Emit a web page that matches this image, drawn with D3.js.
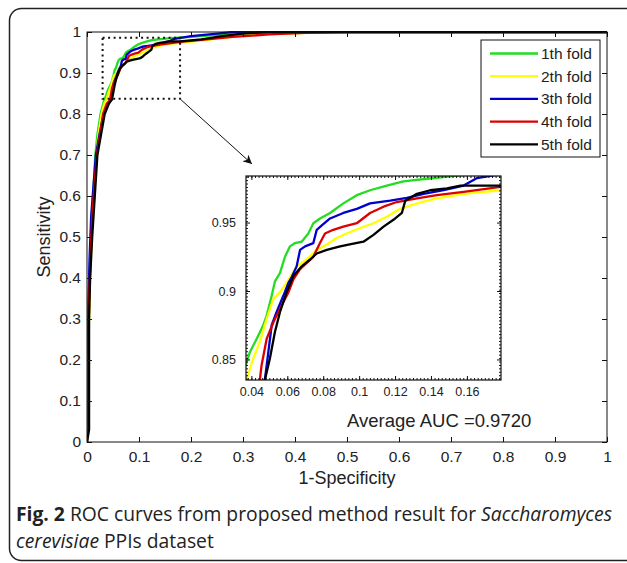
<!DOCTYPE html>
<html lang="en">
  <head>
    <meta charset="utf-8">
    <title>ROC curves | Saccharomyces cerevisiae PPIs</title>
    <script type="text/javascript" src="https://d3js.org/d3.v7.min.js"></script>
    <style>
      body { margin: 0; background: #ffffff; }
      .tick text { font-family: 'Liberation Sans', Arial, sans-serif; fill: #222; }
      .domain { display: none; }
      .roc-line { fill: none; stroke-width: 2.3; stroke-linejoin: round; }
      .caption { font-family: 'Open Sans', 'Noto Sans', sans-serif; font-size: 19.3px; fill: #222; }
    </style>
  </head>
  <body>
    <div id="roc-vis"></div>
    <script type="text/javascript">

      var w = 627;
      var h = 563;

      // data: [1-specificity, sensitivity]
      var foldNames = ['1th fold', '2th fold', '3th fold', '4th fold', '5th fold'];
      var foldColors = ['#22dd22', '#ffff00', '#0000cc', '#dd0000', '#000000'];

      var fold1 = [[0,0],[0.003,0.22],[0.004,0.35],[0.006,0.45],[0.009,0.55],[0.013,0.63],[0.016,0.7],[0.02,0.75],[0.026,0.8],[0.032,0.83],[0.0369,0.846],[0.0392,0.8555],[0.0429,0.865],[0.0466,0.875],[0.0485,0.882],[0.0513,0.8965],[0.0531,0.907],[0.0559,0.913],[0.0587,0.925],[0.0615,0.9326],[0.0643,0.935],[0.068,0.936],[0.0717,0.942],[0.0745,0.9495],[0.0782,0.953],[0.0838,0.957],[0.0912,0.964],[0.0987,0.97],[0.1061,0.9736],[0.1154,0.977],[0.1247,0.98],[0.1377,0.982],[0.16,0.985],[0.2,0.988],[0.25,0.993],[0.3,0.996],[0.4,0.998],[0.5,1],[1,1]];
      var fold2 = [[0,0],[0.002,0.2],[0.004,0.3],[0.006,0.4],[0.009,0.5],[0.014,0.6],[0.018,0.7],[0.022,0.75],[0.028,0.8],[0.033,0.825],[0.0373,0.835],[0.041,0.8507],[0.0447,0.8628],[0.0485,0.8796],[0.0522,0.894],[0.0559,0.899],[0.0596,0.906],[0.0652,0.918],[0.0708,0.923],[0.0764,0.93],[0.082,0.934],[0.0875,0.9387],[0.0931,0.942],[0.1006,0.946],[0.108,0.9495],[0.1154,0.9543],[0.1229,0.96],[0.1322,0.964],[0.1433,0.9676],[0.1582,0.971],[0.1787,0.9736],[0.22,0.979],[0.26,0.985],[0.3,0.992],[0.38,0.996],[0.45,0.999],[0.5,1],[1,1]];
      var fold3 = [[0,0],[0.002,0.25],[0.003,0.35],[0.005,0.45],[0.008,0.55],[0.011,0.6],[0.017,0.7],[0.024,0.75],[0.032,0.8],[0.04,0.825],[0.0475,0.835],[0.0494,0.855],[0.0513,0.875],[0.054,0.8845],[0.0578,0.8965],[0.0606,0.906],[0.0624,0.91],[0.0652,0.918],[0.0671,0.93],[0.0699,0.9326],[0.0745,0.935],[0.0764,0.9447],[0.0792,0.948],[0.0838,0.953],[0.0912,0.957],[0.0987,0.96],[0.1061,0.964],[0.1173,0.966],[0.1266,0.968],[0.1359,0.971],[0.1471,0.9736],[0.1582,0.977],[0.1657,0.9825],[0.2,0.99],[0.25,0.996],[0.28,1],[1,1]];
      var fold4 = [[0,0],[0.003,0.25],[0.004,0.35],[0.007,0.45],[0.01,0.55],[0.014,0.62],[0.019,0.7],[0.025,0.75],[0.031,0.8],[0.038,0.825],[0.0447,0.835],[0.0457,0.846],[0.0485,0.865],[0.0522,0.877],[0.0559,0.887],[0.0606,0.899],[0.0634,0.9085],[0.0671,0.916],[0.0708,0.9206],[0.0745,0.925],[0.0782,0.935],[0.081,0.942],[0.0856,0.9447],[0.0912,0.947],[0.0987,0.9495],[0.1061,0.957],[0.1136,0.9616],[0.121,0.965],[0.1322,0.9676],[0.1433,0.97],[0.1582,0.9724],[0.1787,0.976],[0.22,0.981],[0.28,0.988],[0.35,0.994],[0.42,0.998],[0.5,1],[1,1]];
      var fold5 = [[0,0],[0.004,0.03],[0.004,0.3],[0.006,0.4],[0.01,0.5],[0.015,0.6],[0.02,0.7],[0.027,0.75],[0.034,0.8],[0.042,0.825],[0.0475,0.835],[0.0503,0.8507],[0.0531,0.87],[0.0559,0.8845],[0.0596,0.899],[0.0634,0.911],[0.068,0.918],[0.0727,0.923],[0.0764,0.9274],[0.082,0.93],[0.0894,0.9326],[0.0968,0.9346],[0.1024,0.936],[0.108,0.941],[0.1136,0.947],[0.1191,0.952],[0.1238,0.957],[0.1257,0.966],[0.1322,0.971],[0.1396,0.9736],[0.1489,0.975],[0.1564,0.977],[0.1787,0.977],[0.22,0.982],[0.26,0.99],[0.3,0.996],[0.35,1],[1,1]];
      var folds = [fold1, fold2, fold3, fold4, fold5];

      var mainTicks = [0, 0.1, 0.2, 0.3, 0.4, 0.5, 0.6, 0.7, 0.8, 0.9, 1];
      var insetTicksX = [0.04, 0.06, 0.08, 0.1, 0.12, 0.14, 0.16];
      var insetTicksY = [0.85, 0.9, 0.95];
      var zoomX = [0.037, 0.179]; // zoomed window
      var zoomY = [0.835, 0.984];
      var aucText = 'Average AUC =0.9720';

      var svg = d3.select('#roc-vis')
        .append('svg')
          .attr('width', w)
          .attr('height', h)
          .style('background', '#ffffff');

      svg.append('defs').append('marker')
        .attr('id', 'arrowhead')
        .attr('viewBox', '0 0 10 10')
        .attr('refX', 10).attr('refY', 5)
        .attr('markerWidth', 9).attr('markerHeight', 9)
        .attr('markerUnits', 'userSpaceOnUse')
        .attr('orient', 'auto')
        .append('path')
          .attr('d', 'M0,0 L10,5 L0,10 L3,5 Z')
          .attr('fill', '#111');

      // outer rounded frame
      svg.append('rect')
        .attr('x', 9.5).attr('y', 8.5)
        .attr('width', 640).attr('height', 552)
        .attr('rx', 12)
        .attr('fill', 'none')
        .attr('stroke', '#222')
        .attr('stroke-width', 1.5);

      // main axes ------------------------------------------------------------
      var mLeft = 87, mRight = 607, mTop = 32, mBottom = 442;

      var x = d3.scaleLinear().domain([0, 1]).range([mLeft, mRight]);
      var y = d3.scaleLinear().domain([0, 1]).range([mBottom, mTop]);

      svg.append('defs').append('clipPath').attr('id', 'main-clip')
        .append('rect')
          .attr('x', mLeft).attr('y', mTop - 1)
          .attr('width', mRight - mLeft).attr('height', mBottom - mTop + 1);

      var line = d3.line()
        .x(function(d) { return x(d[0]); })
        .y(function(d) { return y(d[1]); });

      svg.append('g')
        .attr('clip-path', 'url(#main-clip)')
        .selectAll('path')
        .data(folds)
        .enter()
        .append('path')
          .attr('class', 'roc-line')
          .attr('d', line)
          .attr('stroke', function(d, i) { return foldColors[i]; });

      svg.append('rect')
        .attr('x', mLeft).attr('y', mTop)
        .attr('width', mRight - mLeft).attr('height', mBottom - mTop)
        .attr('fill', 'none').attr('stroke', '#111').attr('stroke-width', 1);

      var fmt = function(d) { return d3.format('')(d); };

      var gx = svg.append('g')
        .attr('transform', 'translate(0,' + mBottom + ')')
        .call(d3.axisBottom(x).tickValues(mainTicks).tickFormat(fmt).tickSize(-5).tickPadding(9));
      svg.append('g')
        .attr('transform', 'translate(0,' + mTop + ')')
        .call(d3.axisTop(x).tickValues(mainTicks).tickFormat('').tickSize(-5));
      var gy = svg.append('g')
        .attr('transform', 'translate(' + mLeft + ',0)')
        .call(d3.axisLeft(y).tickValues(mainTicks).tickFormat(fmt).tickSize(-5).tickPadding(6));
      svg.append('g')
        .attr('transform', 'translate(' + mRight + ',0)')
        .call(d3.axisRight(y).tickValues(mainTicks).tickFormat('').tickSize(-5));

      svg.selectAll('.tick line').attr('stroke', '#111');
      gx.selectAll('.tick text').style('font-size', '15.5px');
      gy.selectAll('.tick text').style('font-size', '15.5px');

      svg.append('text')
        .attr('x', (mLeft + mRight) / 2).attr('y', 484)
        .attr('text-anchor', 'middle')
        .style('font-family', "'Liberation Sans', Arial, sans-serif")
        .style('font-size', '18px').style('fill', '#222')
        .text('1-Specificity');

      svg.append('text')
        .attr('transform', 'translate(50,' + (mTop + mBottom) / 2 + ') rotate(-90)')
        .attr('text-anchor', 'middle')
        .style('font-family', "'Liberation Sans', Arial, sans-serif")
        .style('font-size', '18px').style('fill', '#222')
        .text('Sensitivity');

      // dotted zoom box + arrow
      svg.append('rect')
        .attr('x', x(0.03)).attr('y', y(0.986))
        .attr('width', x(0.179) - x(0.03))
        .attr('height', y(0.837) - y(0.986))
        .attr('fill', 'none')
        .attr('stroke', '#111')
        .attr('stroke-width', 2)
        .attr('stroke-dasharray', '2,3.5');

      svg.append('line')
        .attr('x1', x(0.179) + 1).attr('y1', y(0.837) + 1)
        .attr('x2', 252).attr('y2', 164)
        .attr('stroke', '#111').attr('stroke-width', 1)
        .attr('marker-end', 'url(#arrowhead)');

      // legend
      var legend = svg.append('g').attr('transform', 'translate(481,40)');
      legend.append('rect')
        .attr('width', 119).attr('height', 117)
        .attr('fill', '#ffffff').attr('stroke', '#111').attr('stroke-width', 1);
      var items = legend.selectAll('.legend-item')
        .data(foldNames)
        .enter()
        .append('g')
          .attr('class', 'legend-item')
          .attr('transform', function(d, i) { return 'translate(0,' + (13.5 + i * 22.7) + ')'; });
      items.append('line')
        .attr('x1', 9).attr('x2', 57)
        .attr('stroke-width', 2.3)
        .attr('stroke', function(d, i) { return foldColors[i]; });
      items.append('text')
        .attr('x', 60).attr('y', 5.5)
        .style('font-family', "'Liberation Sans', Arial, sans-serif")
        .style('font-size', '15.5px').style('fill', '#222')
        .text(function(d) { return d; });

      // inset ---------------------------------------------------------------
      var iLeft = 246, iRight = 501, iTop = 176, iBottom = 380;
      var ix = d3.scaleLinear().domain(zoomX).range([iLeft, iRight]);
      var iy = d3.scaleLinear().domain(zoomY).range([iBottom, iTop]);

      svg.append('rect')
        .attr('x', iLeft).attr('y', iTop)
        .attr('width', iRight - iLeft).attr('height', iBottom - iTop)
        .attr('fill', '#ffffff');

      svg.append('defs').append('clipPath').attr('id', 'inset-clip')
        .append('rect')
          .attr('x', iLeft).attr('y', iTop)
          .attr('width', iRight - iLeft).attr('height', iBottom - iTop);

      var insetLine = d3.line()
        .x(function(d) { return ix(d[0]); })
        .y(function(d) { return iy(d[1]); });

      svg.append('g')
        .attr('clip-path', 'url(#inset-clip)')
        .selectAll('path')
        .data(folds)
        .enter()
        .append('path')
          .attr('class', 'roc-line')
          .attr('d', insetLine)
          .attr('stroke', function(d, i) { return foldColors[i]; });

      // minor ticks, dotted look along the inset frame
      var minorX = d3.range(0.038, zoomX[1], 0.002);
      var minorY = d3.range(0.836, zoomY[1], 0.0025);
      svg.append('g').attr('transform', 'translate(0,' + iBottom + ')')
        .call(d3.axisBottom(ix).tickValues(minorX).tickFormat('').tickSize(-2));
      svg.append('g').attr('transform', 'translate(0,' + iTop + ')')
        .call(d3.axisTop(ix).tickValues(minorX).tickFormat('').tickSize(-2));
      svg.append('g').attr('transform', 'translate(' + iLeft + ',0)')
        .call(d3.axisLeft(iy).tickValues(minorY).tickFormat('').tickSize(-2));
      svg.append('g').attr('transform', 'translate(' + iRight + ',0)')
        .call(d3.axisRight(iy).tickValues(minorY).tickFormat('').tickSize(-2));

      var igx = svg.append('g')
        .attr('transform', 'translate(0,' + iBottom + ')')
        .call(d3.axisBottom(ix).tickValues(insetTicksX).tickFormat(fmt).tickSize(-4).tickPadding(7));
      svg.append('g')
        .attr('transform', 'translate(0,' + iTop + ')')
        .call(d3.axisTop(ix).tickValues(insetTicksX).tickFormat('').tickSize(-4));
      var igy = svg.append('g')
        .attr('transform', 'translate(' + iLeft + ',0)')
        .call(d3.axisLeft(iy).tickValues(insetTicksY).tickFormat(fmt).tickSize(-4).tickPadding(10));
      svg.append('g')
        .attr('transform', 'translate(' + iRight + ',0)')
        .call(d3.axisRight(iy).tickValues(insetTicksY).tickFormat('').tickSize(-4));

      svg.selectAll('.tick line').attr('stroke', '#111');
      igx.selectAll('.tick text').style('font-size', '12.5px');
      igy.selectAll('.tick text').style('font-size', '12.5px');

      svg.append('rect')
        .attr('x', iLeft).attr('y', iTop)
        .attr('width', iRight - iLeft).attr('height', iBottom - iTop)
        .attr('fill', 'none').attr('stroke', '#111').attr('stroke-width', 1.2);

      svg.append('text')
        .attr('x', 347).attr('y', 427)
        .style('font-family', "'Liberation Sans', Arial, sans-serif")
        .style('font-size', '18.5px').style('fill', '#222')
        .text(aucText);

      // caption
      var cap1 = svg.append('text').attr('class', 'caption').attr('x', 16).attr('y', 521);
      cap1.append('tspan').style('font-weight', 'bold').text('Fig. 2');
      cap1.append('tspan').text(' ROC curves from proposed method result for ');
      cap1.append('tspan').style('font-style', 'italic').text('Saccharomyces');

      var cap2 = svg.append('text').attr('class', 'caption').attr('x', 16).attr('y', 548);
      cap2.append('tspan').style('font-style', 'italic').text('cerevisiae');
      cap2.append('tspan').text(' PPIs dataset');

    </script>
  </body>
</html>
